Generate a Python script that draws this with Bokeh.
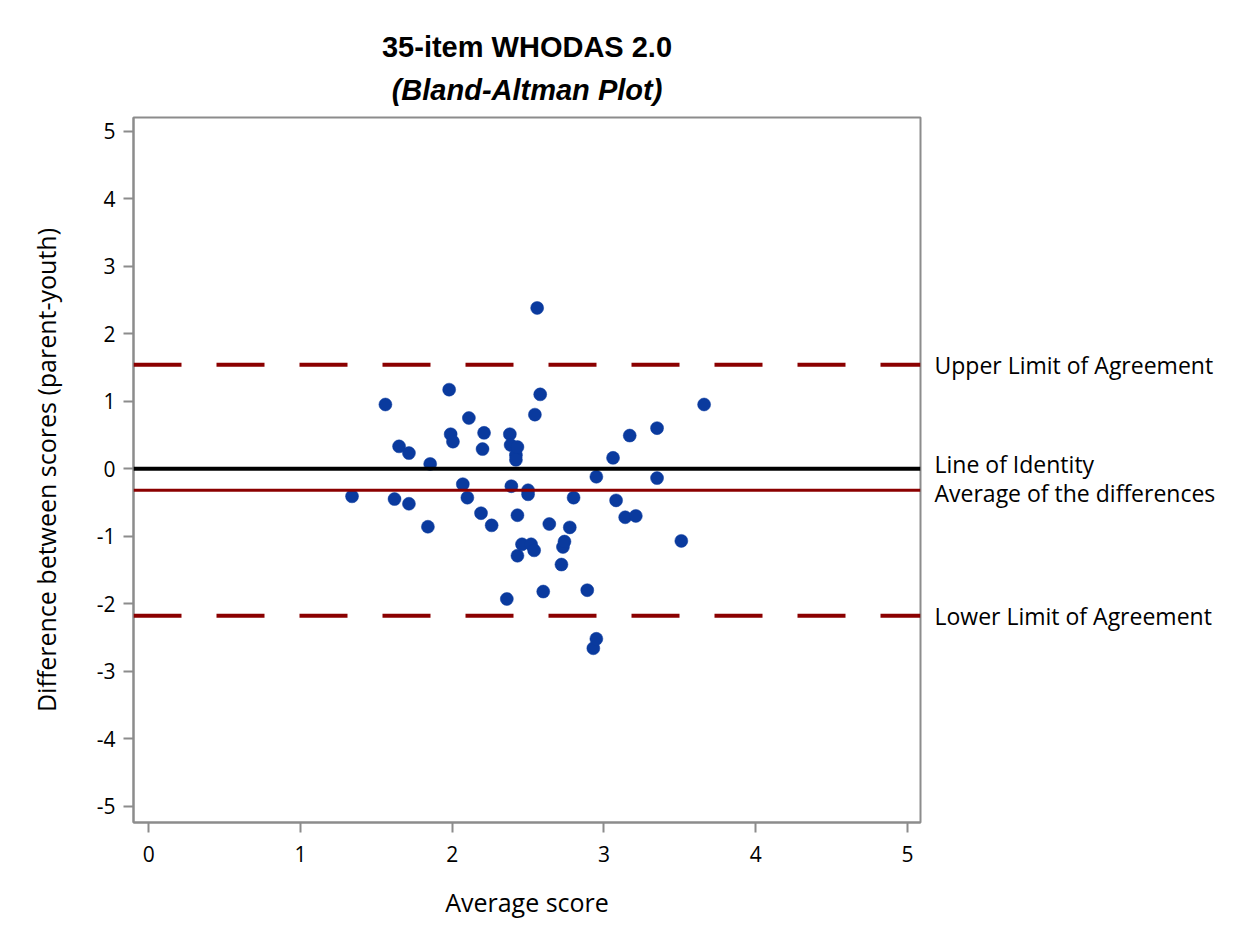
from bokeh.plotting import figure
from bokeh.models import Span, Title, Range1d, FixedTicker, LinearAxis, CustomJSTickFormatter
from bokeh.embed import file_html
from bokeh.resources import INLINE

avg_score = [1.34, 1.56, 1.62, 1.65, 1.715, 1.715, 1.84, 1.855, 1.98, 1.99, 2.005,
             2.07, 2.10, 2.11, 2.19, 2.20, 2.21, 2.26, 2.36, 2.38, 2.385, 2.39,
             2.42, 2.42, 2.43, 2.43, 2.43, 2.46, 2.50, 2.50, 2.52, 2.54, 2.545,
             2.56, 2.58, 2.60, 2.64, 2.73, 2.74, 2.72, 2.775, 2.80, 2.89, 2.93,
             2.95, 2.95, 3.06, 3.08, 3.14, 3.17, 3.21, 3.35, 3.35, 3.51, 3.66]
diff_score = [-0.41, 0.95, -0.45, 0.33, 0.23, -0.52, -0.86, 0.07, 1.17, 0.51, 0.40,
              -0.23, -0.43, 0.75, -0.66, 0.29, 0.53, -0.84, -1.93, 0.51, 0.35, -0.26,
              0.20, 0.13, 0.32, -0.69, -1.29, -1.12, -0.32, -0.38, -1.12, -1.21, 0.80,
              2.38, 1.10, -1.82, -0.82, -1.16, -1.08, -1.42, -0.87, -0.43, -1.80, -2.66,
              -2.52, -0.12, 0.16, -0.47, -0.72, 0.49, -0.70, 0.60, -0.14, -1.07, 0.95]

mean_diff = -0.32
upper_loa = 1.54
lower_loa = -2.18
identity = 0.0

ref_labels = ["Upper Limit of Agreement", "Line of Identity",
              "Average of the differences", "Lower Limit of Agreement"]
ref_label_y = [1.54, 0.07, -0.355, -2.18]

xticks = [0, 1, 2, 3, 4, 5]
yticks = [-5, -4, -3, -2, -1, 0, 1, 2, 3, 4, 5]

FONT = "Open Sans"
TFONT = "Liberation Sans"

p = figure(width=1234, height=921, output_backend="svg", toolbar_location=None,
           x_range=Range1d(-0.1, 5.086), y_range=Range1d(-5.24, 5.2),
           min_border_left=133, min_border_right=314, min_border_top=117,
           min_border_bottom=88)
p.title = None

sub = Title(text="(Bland-Altman Plot)", align="center", text_font=TFONT,
            text_font_size="29px", text_font_style="bold italic", text_color="black",
            standoff=23)
p.add_layout(sub, "above")
main = Title(text="35-item WHODAS 2.0", align="center", text_font=TFONT,
             text_font_size="29px", text_font_style="bold", text_color="black",
             standoff=-4)
p.add_layout(main, "above")

p.xgrid.visible = False
p.ygrid.visible = False
p.outline_line_color = "#8c8c8c"
p.outline_line_width = 2
p.background_fill_color = "white"
p.border_fill_color = "white"

for ax in (p.xaxis[0], p.yaxis[0]):
    ax.axis_line_color = "#8c8c8c"
    ax.axis_line_width = 2
    ax.major_tick_line_color = "#8c8c8c"
    ax.major_tick_line_width = 2
    ax.major_tick_out = 10
    ax.major_tick_in = 0
    ax.minor_tick_line_color = None
    ax.major_label_text_font = FONT
    ax.major_label_text_font_size = "21px"
    ax.major_label_text_color = "black"
    ax.axis_label_text_font = FONT
    ax.axis_label_text_font_size = "25px"
    ax.axis_label_text_font_style = "normal"
    ax.axis_label_text_color = "black"

p.xaxis.ticker = FixedTicker(ticks=xticks)
p.yaxis.ticker = FixedTicker(ticks=yticks)
p.yaxis.formatter = CustomJSTickFormatter(code="return tick.toFixed(0);")
p.xaxis.axis_label = "Average score"
p.yaxis.axis_label = "Difference between scores (parent-youth)"
p.xaxis.major_label_standoff = 13
p.xaxis.axis_label_standoff = 20
p.yaxis.major_label_standoff = 8
p.yaxis.axis_label_standoff = 31

# Reference-line labels placed on a right-hand axis
rax = LinearAxis(ticker=FixedTicker(ticks=ref_label_y),
                 formatter=CustomJSTickFormatter(
                     args=dict(ys=ref_label_y, labels=ref_labels),
                     code="for (let i = 0; i < ys.length; i++) { if (Math.abs(tick - ys[i]) < 1e-6) return labels[i]; } return '';"))
rax.axis_line_color = None
rax.major_tick_line_color = None
rax.minor_tick_line_color = None
rax.major_label_standoff = 8
rax.major_label_text_font = FONT
rax.major_label_text_font_size = "23px"
rax.major_label_text_color = "black"
p.add_layout(rax, "right")

p.add_layout(Span(location=upper_loa, dimension="width", line_color="#8B0000",
                  line_width=4, line_dash="48 35"))
p.add_layout(Span(location=lower_loa, dimension="width", line_color="#8B0000",
                  line_width=4, line_dash="48 35"))
p.add_layout(Span(location=identity, dimension="width", line_color="black",
                  line_width=4))
p.add_layout(Span(location=mean_diff, dimension="width", line_color="#8B0000",
                  line_width=3))

p.scatter(avg_score, diff_score, size=13, fill_color="#0A3A9E",
          line_color="#0A3A9E", line_width=0.5)

open("out.html", "w").write(file_html(p, INLINE))
